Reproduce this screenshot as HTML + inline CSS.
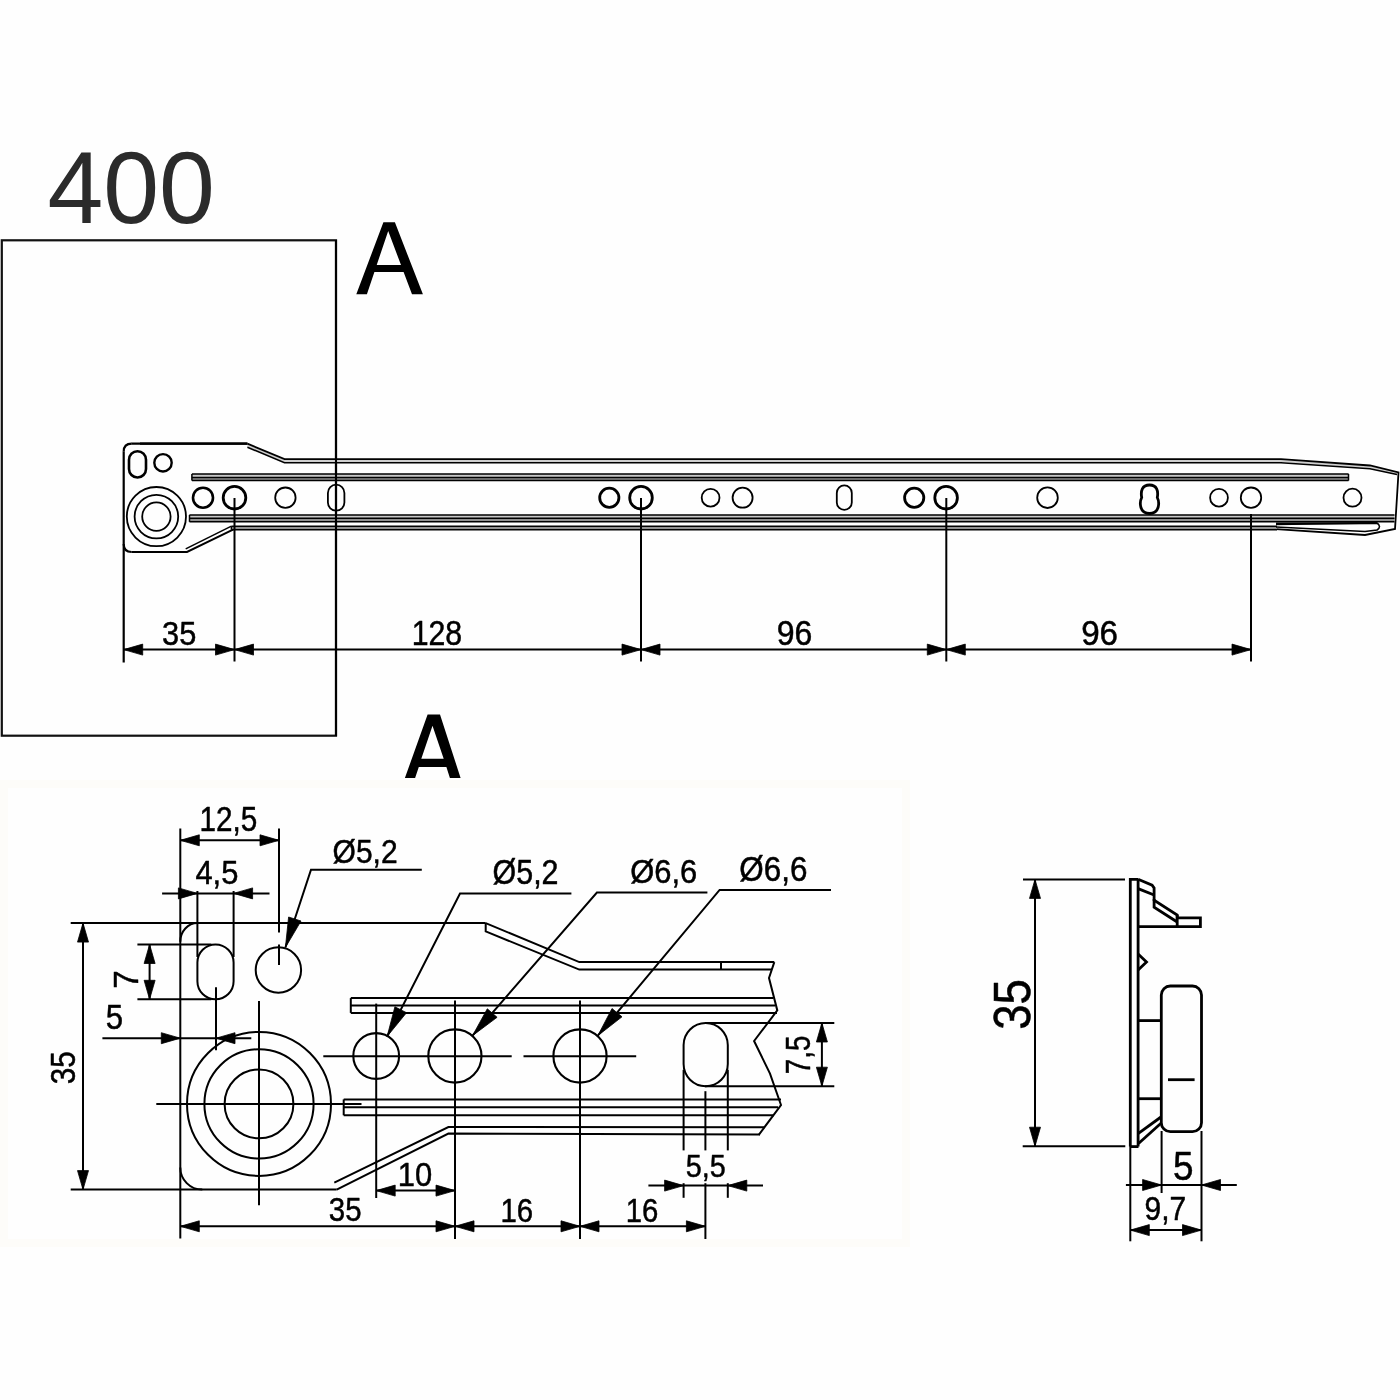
<!DOCTYPE html>
<html><head><meta charset="utf-8"><style>
html,body{margin:0;padding:0;width:1400px;height:1400px;overflow:hidden;background:#fefefe;}
text{font-family:"Liberation Sans",sans-serif;}
svg{will-change:transform;}
</style></head><body>
<svg width="1400" height="1400" viewBox="0 0 1400 1400" style="position:absolute;left:0;top:0">
<rect x="0" y="0" width="1400" height="1400" fill="#fefefe"/>
<rect x="4" y="784" width="902" height="459" fill="none" stroke="#fdfcf9" stroke-width="8"/>
<g font-family="Liberation Sans, sans-serif">
<text transform="translate(47.40,223.30) scale(0.9792,1)" font-size="102.54" fill="#2b2b2b">400</text>
<rect x="1.8" y="240.3" width="334.2" height="495.4" fill="none" stroke="#111" stroke-width="2.2"/>
<path fill-rule="evenodd" fill="#000" d="M356.3,294.3 L383.4,222.3 L394.9,222.3 L422.9,294.3 L412,294.3 L403.6,272 L374.4,272 L366.9,294.3 Z M388.2,230.9 L401,265.1 L376.7,265.1 Z"/>
<path d="M247.4,443.7 L140.0,443.7" stroke="#000" stroke-width="2.2" fill="none" stroke-linejoin="miter"/>
<path d="M131.7,443.7 Q123.7,443.7 123.7,451.7" stroke="#000" stroke-width="2.2" fill="none"/>
<path d="M123.7,544 Q123.7,552 131.7,552" stroke="#000" stroke-width="2.2" fill="none"/>
<path d="M131.7,552.0 L187.0,552.0 L233.0,529.7" stroke="#000" stroke-width="2.0" fill="none" stroke-linejoin="miter"/>
<line x1="131.5" y1="443.7" x2="247.4" y2="443.7" stroke="#000" stroke-width="2.2"/>
<path d="M247.4,445.4 L284.5,461 L1281,461 L1370,467.2 L1397.7,473.5" stroke="#cfcfcf" stroke-width="2.2" fill="none"/>
<path d="M247.4,443.7 L284.5,459.2 L1281.0,459.2 L1370.0,465.5 L1398.5,472.5 L1395.0,529.0 L1365.0,535.0 L1276.0,529.2" stroke="#000" stroke-width="1.8" fill="none" stroke-linejoin="miter"/>
<path d="M247.4,447.2 L284.5,462.8 L1281.0,462.8 L1370.0,468.8 L1397.0,474.5" stroke="#000" stroke-width="1.6" fill="none" stroke-linejoin="miter"/>
<path d="M185.7,548.8 L231.4,526.2" stroke="#000" stroke-width="1.5" fill="none" stroke-linejoin="miter"/>
<rect x="191.9" y="473.9" width="1156.6" height="3.5" fill="#c8c8c8"/>
<rect x="191.9" y="477.4" width="1156.6" height="3.2" fill="#909090"/>
<line x1="191.9" y1="473.9" x2="1348.5" y2="473.9" stroke="#000" stroke-width="1.5"/>
<line x1="191.9" y1="477.4" x2="1348.5" y2="477.4" stroke="#000" stroke-width="1.5"/>
<line x1="191.9" y1="480.6" x2="1348.5" y2="480.6" stroke="#000" stroke-width="1.5"/>
<line x1="191.9" y1="473.9" x2="191.9" y2="480.6" stroke="#000" stroke-width="1.5"/>
<line x1="1348.5" y1="473.9" x2="1348.5" y2="480.6" stroke="#000" stroke-width="1.5"/>
<rect x="189.5" y="514.9" width="1205.0" height="3.4" fill="#c8c8c8"/>
<rect x="189.5" y="518.3" width="1205.0" height="3.5" fill="#909090"/>
<line x1="189.5" y1="514.9" x2="1394.5" y2="514.9" stroke="#000" stroke-width="1.5"/>
<line x1="189.5" y1="518.3" x2="1394.5" y2="518.3" stroke="#000" stroke-width="1.5"/>
<line x1="189.5" y1="521.8" x2="1394.5" y2="521.8" stroke="#000" stroke-width="1.5"/>
<line x1="189.5" y1="514.9" x2="189.5" y2="521.8" stroke="#000" stroke-width="1.5"/>
<rect x="231.4" y="526.2" width="1045.6" height="3.5" fill="#909090"/>
<line x1="231.4" y1="526.2" x2="1277.0" y2="526.2" stroke="#000" stroke-width="1.5"/>
<line x1="231.4" y1="529.7" x2="1277.0" y2="529.7" stroke="#000" stroke-width="1.5"/>
<line x1="231.4" y1="526.2" x2="231.4" y2="529.7" stroke="#000" stroke-width="1.5"/>
<line x1="231.4" y1="526.2" x2="231.4" y2="529.7" stroke="#000" stroke-width="0"/>
<path d="M1276,524.5 L1377,523 Q1382,526.5 1377,530 L1365,531.5 L1276,527" stroke="#000" stroke-width="1.6" fill="none"/>
<line x1="1276.0" y1="523.5" x2="1377.0" y2="523.2" stroke="#000" stroke-width="2.2"/>
<circle cx="137.5" cy="464.3" r="0.0" stroke="#000" stroke-width="0" fill="none"/>
<rect x="129.0" y="451.2" width="17.0" height="26.3" rx="8.5" ry="8.5" stroke="#000" stroke-width="2.6" fill="none"/>
<circle cx="163.0" cy="462.8" r="8.7" stroke="#000" stroke-width="2.4" fill="none"/>
<circle cx="156.4" cy="516.6" r="29.6" stroke="#000" stroke-width="1.8" fill="none"/>
<circle cx="156.4" cy="516.6" r="21.8" stroke="#000" stroke-width="1.8" fill="none"/>
<circle cx="156.4" cy="516.6" r="14.2" stroke="#000" stroke-width="1.8" fill="none"/>
<circle cx="203.0" cy="497.7" r="10.0" stroke="#000" stroke-width="2.6" fill="none"/>
<circle cx="234.5" cy="497.7" r="11.3" stroke="#000" stroke-width="2.8" fill="none"/>
<circle cx="285.4" cy="497.7" r="10.2" stroke="#000" stroke-width="1.8" fill="none"/>
<rect x="327.9" y="484.7" width="16.5" height="26.0" rx="8.2" ry="8.2" stroke="#000" stroke-width="1.8" fill="none"/>
<circle cx="609.3" cy="497.7" r="9.6" stroke="#000" stroke-width="2.8" fill="none"/>
<circle cx="641.0" cy="497.7" r="11.3" stroke="#000" stroke-width="2.8" fill="none"/>
<circle cx="710.6" cy="497.7" r="8.9" stroke="#000" stroke-width="1.8" fill="none"/>
<circle cx="742.6" cy="497.7" r="10.0" stroke="#000" stroke-width="1.8" fill="none"/>
<rect x="836.8" y="485.4" width="15.0" height="24.5" rx="7.5" ry="7.5" stroke="#000" stroke-width="1.8" fill="none"/>
<circle cx="914.2" cy="497.7" r="9.6" stroke="#000" stroke-width="2.8" fill="none"/>
<circle cx="946.1" cy="497.7" r="11.3" stroke="#000" stroke-width="2.8" fill="none"/>
<circle cx="1047.5" cy="497.7" r="10.3" stroke="#000" stroke-width="1.8" fill="none"/>
<path d="M1149.5,485 C1157,485 1158.5,491 1157.3,497.5 C1159.5,502 1160,513.5 1149.5,513.5 C1139,513.5 1139.5,502 1141.7,497.5 C1140.5,491 1142,485 1149.5,485 Z" stroke="#000" stroke-width="2.8" fill="none"/>
<circle cx="1219.0" cy="497.7" r="8.9" stroke="#000" stroke-width="1.8" fill="none"/>
<circle cx="1251.0" cy="497.7" r="10.2" stroke="#000" stroke-width="1.8" fill="none"/>
<circle cx="1352.5" cy="497.7" r="9.0" stroke="#000" stroke-width="1.8" fill="none"/>
<line x1="123.7" y1="451.7" x2="123.7" y2="662.5" stroke="#000" stroke-width="2.2"/>
<line x1="234.5" y1="498.0" x2="234.5" y2="661.5" stroke="#000" stroke-width="2"/>
<line x1="336.0" y1="240.0" x2="336.0" y2="736.0" stroke="#000" stroke-width="2.1"/>
<line x1="641.0" y1="498.0" x2="641.0" y2="661.5" stroke="#000" stroke-width="2"/>
<line x1="946.3" y1="498.0" x2="946.3" y2="661.5" stroke="#000" stroke-width="2"/>
<line x1="1251.0" y1="514.0" x2="1251.0" y2="661.5" stroke="#000" stroke-width="2"/>
<line x1="123.7" y1="649.6" x2="1251.0" y2="649.6" stroke="#000" stroke-width="2"/>
<path d="M123.7,649.6 L142.7,644.1 L142.7,655.1 Z" fill="#000" stroke="#000" stroke-width="0.8" stroke-linejoin="round"/>
<path d="M234.5,649.6 L215.5,655.1 L215.5,644.1 Z" fill="#000" stroke="#000" stroke-width="0.8" stroke-linejoin="round"/>
<path d="M234.5,649.6 L253.5,644.1 L253.5,655.1 Z" fill="#000" stroke="#000" stroke-width="0.8" stroke-linejoin="round"/>
<path d="M641.0,649.6 L622.0,655.1 L622.0,644.1 Z" fill="#000" stroke="#000" stroke-width="0.8" stroke-linejoin="round"/>
<path d="M641.0,649.6 L660.0,644.1 L660.0,655.1 Z" fill="#000" stroke="#000" stroke-width="0.8" stroke-linejoin="round"/>
<path d="M946.3,649.6 L927.3,655.1 L927.3,644.1 Z" fill="#000" stroke="#000" stroke-width="0.8" stroke-linejoin="round"/>
<path d="M946.3,649.6 L965.3,644.1 L965.3,655.1 Z" fill="#000" stroke="#000" stroke-width="0.8" stroke-linejoin="round"/>
<path d="M1251.0,649.6 L1232.0,655.1 L1232.0,644.1 Z" fill="#000" stroke="#000" stroke-width="0.8" stroke-linejoin="round"/>
<text transform="translate(162.03,644.60) scale(0.9076,1)" font-size="33.94" fill="#000" stroke="#000" stroke-width="0.5" stroke-linejoin="round">35</text>
<text transform="translate(411.69,644.60) scale(0.8773,1)" font-size="34.52" fill="#000" stroke="#000" stroke-width="0.5" stroke-linejoin="round">128</text>
<text transform="translate(776.70,644.60) scale(0.9161,1)" font-size="34.94" fill="#000" stroke="#000" stroke-width="0.5" stroke-linejoin="round">96</text>
<text transform="translate(1081.14,645.20) scale(0.9536,1)" font-size="34.80" fill="#000" stroke="#000" stroke-width="0.5" stroke-linejoin="round">96</text>
<g>
<path fill-rule="evenodd" fill="#000" d="M404.9,778 L427.6,714.6 L440,714.6 L460.6,778 L449.9,778 L446.4,766.9 L418.8,766.9 L415.1,778 Z M432.5,725.7 L443.7,758.7 L421.3,758.7 Z"/>
<line x1="70.7" y1="923.1" x2="485.7" y2="923.1" stroke="#000" stroke-width="2"/>
<path d="M180.3,941.7 A17.1,18.6 0 0 1 197.4,923.1" stroke="#000" stroke-width="2" fill="none"/>
<path d="M180.3,1167.5 A22,22 0 0 0 202.3,1189.6" stroke="#000" stroke-width="2" fill="none"/>
<line x1="70.7" y1="1189.6" x2="336.7" y2="1189.6" stroke="#000" stroke-width="2"/>
<path d="M336.7,1189.6 L448.4,1133.6 L760.0,1134.6" stroke="#000" stroke-width="2" fill="none" stroke-linejoin="miter"/>
<path d="M334.3,1182.6 L448.4,1127.0 L765.0,1127.2" stroke="#000" stroke-width="2" fill="none" stroke-linejoin="miter"/>
<path d="M485.7,923.1 L579.3,962.1 L774.3,962.1" stroke="#000" stroke-width="2" fill="none" stroke-linejoin="miter"/>
<path d="M485.7,923.1 L485.7,931.4 L579.3,969.6 L772.0,969.6" stroke="#000" stroke-width="2" fill="none" stroke-linejoin="miter"/>
<line x1="721.0" y1="962.1" x2="721.0" y2="969.6" stroke="#000" stroke-width="2"/>
<path d="M774.3,962.1 L769.0,978.0 L777.3,1010.4 L754.1,1041.0 L770.0,1073.6 L781.0,1105.0 L758.8,1134.8" stroke="#000" stroke-width="2" fill="none" stroke-linejoin="miter"/>
<line x1="350.8" y1="998.1" x2="773.5" y2="998.1" stroke="#000" stroke-width="2"/>
<line x1="350.8" y1="1005.4" x2="775.0" y2="1005.4" stroke="#000" stroke-width="2"/>
<line x1="350.8" y1="1012.9" x2="777.0" y2="1012.9" stroke="#000" stroke-width="2"/>
<line x1="350.8" y1="998.1" x2="350.8" y2="1012.9" stroke="#000" stroke-width="2"/>
<line x1="343.7" y1="1099.4" x2="781.0" y2="1099.4" stroke="#000" stroke-width="2"/>
<line x1="343.7" y1="1107.3" x2="778.0" y2="1107.3" stroke="#000" stroke-width="2"/>
<line x1="343.7" y1="1115.3" x2="774.0" y2="1115.3" stroke="#000" stroke-width="2"/>
<line x1="343.7" y1="1099.4" x2="343.7" y2="1115.3" stroke="#000" stroke-width="2"/>
<circle cx="259.0" cy="1103.9" r="72.0" stroke="#000" stroke-width="2" fill="none"/>
<circle cx="259.0" cy="1103.9" r="54.6" stroke="#000" stroke-width="2" fill="none"/>
<circle cx="259.0" cy="1103.9" r="34.4" stroke="#000" stroke-width="2" fill="none"/>
<line x1="259.0" y1="1001.0" x2="259.0" y2="1205.2" stroke="#000" stroke-width="2"/>
<line x1="156.3" y1="1103.9" x2="361.5" y2="1103.9" stroke="#000" stroke-width="2"/>
<rect x="197.4" y="944.5" width="36.2" height="54.8" rx="18.1" ry="18.1" stroke="#000" stroke-width="2" fill="none"/>
<line x1="216.0" y1="987.2" x2="216.0" y2="1050.3" stroke="#000" stroke-width="2"/>
<circle cx="278.4" cy="970.0" r="22.7" stroke="#000" stroke-width="2" fill="none"/>
<line x1="279.0" y1="828.6" x2="279.0" y2="932.4" stroke="#000" stroke-width="2"/>
<line x1="279.0" y1="944.5" x2="279.0" y2="965.0" stroke="#000" stroke-width="2"/>
<line x1="180.3" y1="828.6" x2="180.3" y2="1238.6" stroke="#000" stroke-width="2"/>
<line x1="180.3" y1="840.3" x2="279.0" y2="840.3" stroke="#000" stroke-width="2"/>
<path d="M180.3,840.3 L199.3,834.8 L199.3,845.8 Z" fill="#000" stroke="#000" stroke-width="0.8" stroke-linejoin="round"/>
<path d="M279.0,840.3 L260.0,845.8 L260.0,834.8 Z" fill="#000" stroke="#000" stroke-width="0.8" stroke-linejoin="round"/>
<text transform="translate(199.54,830.80) scale(0.8500,1)" font-size="34.94" fill="#000" stroke="#000" stroke-width="0.5" stroke-linejoin="round">12,5</text>
<line x1="162.1" y1="893.4" x2="269.5" y2="893.4" stroke="#000" stroke-width="2"/>
<path d="M197.4,893.4 L178.4,898.9 L178.4,887.9 Z" fill="#000" stroke="#000" stroke-width="0.8" stroke-linejoin="round"/>
<path d="M233.6,893.4 L252.6,887.9 L252.6,898.9 Z" fill="#000" stroke="#000" stroke-width="0.8" stroke-linejoin="round"/>
<line x1="197.4" y1="891.0" x2="197.4" y2="957.0" stroke="#000" stroke-width="2"/>
<line x1="233.6" y1="891.0" x2="233.6" y2="957.0" stroke="#000" stroke-width="2"/>
<text transform="translate(195.39,884.30) scale(0.9096,1)" font-size="34.01" fill="#000" stroke="#000" stroke-width="0.5" stroke-linejoin="round">4,5</text>
<line x1="137.4" y1="944.5" x2="211.3" y2="944.5" stroke="#000" stroke-width="2"/>
<line x1="137.4" y1="999.3" x2="211.3" y2="999.3" stroke="#000" stroke-width="2"/>
<line x1="149.6" y1="944.5" x2="149.6" y2="999.3" stroke="#000" stroke-width="2"/>
<path d="M149.6,944.5 L155.1,963.5 L144.1,963.5 Z" fill="#000" stroke="#000" stroke-width="0.8" stroke-linejoin="round"/>
<path d="M149.6,999.3 L144.1,980.3 L155.1,980.3 Z" fill="#000" stroke="#000" stroke-width="0.8" stroke-linejoin="round"/>
<text transform="translate(137.90,988.69) rotate(-90) scale(0.9538,1)" font-size="34.59" fill="#000" stroke="#000" stroke-width="0.5" stroke-linejoin="round">7</text>
<line x1="102.4" y1="1038.2" x2="251.3" y2="1038.2" stroke="#000" stroke-width="2"/>
<path d="M180.3,1038.2 L161.3,1043.7 L161.3,1032.7 Z" fill="#000" stroke="#000" stroke-width="0.8" stroke-linejoin="round"/>
<path d="M216.0,1038.2 L235.0,1032.7 L235.0,1043.7 Z" fill="#000" stroke="#000" stroke-width="0.8" stroke-linejoin="round"/>
<text transform="translate(105.65,1028.90) scale(0.8838,1)" font-size="35.32" fill="#000" stroke="#000" stroke-width="0.5" stroke-linejoin="round">5</text>
<line x1="83.0" y1="923.1" x2="83.0" y2="1189.6" stroke="#000" stroke-width="2"/>
<path d="M83.0,923.1 L88.5,942.1 L77.5,942.1 Z" fill="#000" stroke="#000" stroke-width="0.8" stroke-linejoin="round"/>
<path d="M83.0,1189.6 L77.5,1170.6 L88.5,1170.6 Z" fill="#000" stroke="#000" stroke-width="0.8" stroke-linejoin="round"/>
<text transform="translate(74.50,1084.13) rotate(-90) scale(0.8346,1)" font-size="35.52" fill="#000" stroke="#000" stroke-width="0.5" stroke-linejoin="round">35</text>
<path d="M285.4,947.5 L311.0,869.7 L421.8,869.7" stroke="#000" stroke-width="2" fill="none" stroke-linejoin="miter"/>
<path d="M285.4,947.5 L288.6,917.0 L301.0,921.0 Z" fill="#000" stroke="#000" stroke-width="0.8" stroke-linejoin="round"/>
<text transform="translate(332.56,863.40) scale(0.8953,1)" font-size="33.51" fill="#000" stroke="#000" stroke-width="0.5" stroke-linejoin="round">Ø5,2</text>
<path d="M387.1,1036.5 L460.0,893.5 L571.4,893.5" stroke="#000" stroke-width="2" fill="none" stroke-linejoin="miter"/>
<path d="M387.1,1036.5 L394.9,1006.8 L406.5,1012.7 Z" fill="#000" stroke="#000" stroke-width="0.8" stroke-linejoin="round"/>
<text transform="translate(492.54,884.30) scale(0.8746,1)" font-size="34.80" fill="#000" stroke="#000" stroke-width="0.5" stroke-linejoin="round">Ø5,2</text>
<path d="M472.5,1035.7 L596.9,892.5 L707.4,892.5" stroke="#000" stroke-width="2" fill="none" stroke-linejoin="miter"/>
<path d="M472.5,1035.7 L487.3,1008.8 L497.1,1017.3 Z" fill="#000" stroke="#000" stroke-width="0.8" stroke-linejoin="round"/>
<text transform="translate(630.23,883.40) scale(0.9109,1)" font-size="33.94" fill="#000" stroke="#000" stroke-width="0.5" stroke-linejoin="round">Ø6,6</text>
<path d="M597.8,1035.7 L719.6,889.9 L831.0,889.9" stroke="#000" stroke-width="2" fill="none" stroke-linejoin="miter"/>
<path d="M597.8,1035.7 L612.0,1008.5 L622.0,1016.8 Z" fill="#000" stroke="#000" stroke-width="0.8" stroke-linejoin="round"/>
<text transform="translate(739.31,881.40) scale(0.8962,1)" font-size="35.09" fill="#000" stroke="#000" stroke-width="0.5" stroke-linejoin="round">Ø6,6</text>
<circle cx="376.2" cy="1056.0" r="22.9" stroke="#000" stroke-width="2.1" fill="none"/>
<circle cx="454.9" cy="1056.0" r="26.6" stroke="#000" stroke-width="2.1" fill="none"/>
<circle cx="580.0" cy="1056.0" r="26.6" stroke="#000" stroke-width="2.1" fill="none"/>
<line x1="323.3" y1="1056.2" x2="511.7" y2="1056.2" stroke="#000" stroke-width="2"/>
<line x1="523.5" y1="1056.2" x2="636.2" y2="1056.2" stroke="#000" stroke-width="2"/>
<line x1="376.2" y1="1003.6" x2="376.2" y2="1198.0" stroke="#000" stroke-width="2"/>
<line x1="455.0" y1="1000.4" x2="455.0" y2="1239.0" stroke="#000" stroke-width="2"/>
<line x1="580.0" y1="1000.4" x2="580.0" y2="1239.0" stroke="#000" stroke-width="2"/>
<rect x="683.6" y="1023.0" width="44.2" height="63.2" rx="22.1" ry="22.1" stroke="#000" stroke-width="2" fill="none"/>
<line x1="705.4" y1="1091.2" x2="705.4" y2="1150.4" stroke="#000" stroke-width="2"/>
<line x1="705.4" y1="1183.2" x2="705.4" y2="1239.0" stroke="#000" stroke-width="2"/>
<line x1="683.6" y1="1069.8" x2="683.6" y2="1150.4" stroke="#000" stroke-width="2"/>
<line x1="727.8" y1="1069.8" x2="727.8" y2="1150.4" stroke="#000" stroke-width="2"/>
<line x1="683.6" y1="1183.2" x2="683.6" y2="1197.8" stroke="#000" stroke-width="2"/>
<line x1="727.8" y1="1183.2" x2="727.8" y2="1197.8" stroke="#000" stroke-width="2"/>
<line x1="705.0" y1="1023.0" x2="834.3" y2="1023.0" stroke="#000" stroke-width="2"/>
<line x1="705.0" y1="1086.2" x2="834.3" y2="1086.2" stroke="#000" stroke-width="2"/>
<line x1="821.9" y1="1023.0" x2="821.9" y2="1086.2" stroke="#000" stroke-width="2"/>
<path d="M821.9,1023.0 L827.4,1042.0 L816.4,1042.0 Z" fill="#000" stroke="#000" stroke-width="0.8" stroke-linejoin="round"/>
<path d="M821.9,1086.2 L816.4,1067.2 L827.4,1067.2 Z" fill="#000" stroke="#000" stroke-width="0.8" stroke-linejoin="round"/>
<text transform="translate(809.90,1074.23) rotate(-90) scale(0.8002,1)" font-size="34.88" fill="#000" stroke="#000" stroke-width="0.5" stroke-linejoin="round">7,5</text>
<line x1="648.4" y1="1185.6" x2="763.0" y2="1185.6" stroke="#000" stroke-width="2"/>
<path d="M683.6,1185.6 L664.6,1191.1 L664.6,1180.1 Z" fill="#000" stroke="#000" stroke-width="0.8" stroke-linejoin="round"/>
<path d="M727.8,1185.6 L746.8,1180.1 L746.8,1191.1 Z" fill="#000" stroke="#000" stroke-width="0.8" stroke-linejoin="round"/>
<text transform="translate(685.85,1177.20) scale(0.8972,1)" font-size="32.12" fill="#000" stroke="#000" stroke-width="0.5" stroke-linejoin="round">5,5</text>
<line x1="376.2" y1="1190.6" x2="455.0" y2="1190.6" stroke="#000" stroke-width="2"/>
<path d="M376.2,1190.6 L395.2,1185.1 L395.2,1196.1 Z" fill="#000" stroke="#000" stroke-width="0.8" stroke-linejoin="round"/>
<path d="M455.0,1190.6 L436.0,1196.1 L436.0,1185.1 Z" fill="#000" stroke="#000" stroke-width="0.8" stroke-linejoin="round"/>
<text transform="translate(397.74,1186.00) scale(0.9130,1)" font-size="33.94" fill="#000" stroke="#000" stroke-width="0.5" stroke-linejoin="round">10</text>
<line x1="180.3" y1="1226.3" x2="705.4" y2="1226.3" stroke="#000" stroke-width="2"/>
<path d="M180.3,1226.3 L199.3,1220.8 L199.3,1231.8 Z" fill="#000" stroke="#000" stroke-width="0.8" stroke-linejoin="round"/>
<path d="M455.0,1226.3 L436.0,1231.8 L436.0,1220.8 Z" fill="#000" stroke="#000" stroke-width="0.8" stroke-linejoin="round"/>
<path d="M455.0,1226.3 L474.0,1220.8 L474.0,1231.8 Z" fill="#000" stroke="#000" stroke-width="0.8" stroke-linejoin="round"/>
<path d="M580.0,1226.3 L561.0,1231.8 L561.0,1220.8 Z" fill="#000" stroke="#000" stroke-width="0.8" stroke-linejoin="round"/>
<path d="M580.0,1226.3 L599.0,1220.8 L599.0,1231.8 Z" fill="#000" stroke="#000" stroke-width="0.8" stroke-linejoin="round"/>
<path d="M705.4,1226.3 L686.4,1231.8 L686.4,1220.8 Z" fill="#000" stroke="#000" stroke-width="0.8" stroke-linejoin="round"/>
<text transform="translate(328.78,1220.70) scale(0.8826,1)" font-size="33.37" fill="#000" stroke="#000" stroke-width="0.5" stroke-linejoin="round">35</text>
<text transform="translate(500.46,1221.70) scale(0.8671,1)" font-size="33.94" fill="#000" stroke="#000" stroke-width="0.5" stroke-linejoin="round">16</text>
<text transform="translate(625.67,1221.70) scale(0.8641,1)" font-size="33.94" fill="#000" stroke="#000" stroke-width="0.5" stroke-linejoin="round">16</text>
</g>
<line x1="1023.0" y1="879.4" x2="1125.0" y2="879.4" stroke="#000" stroke-width="2"/>
<line x1="1022.7" y1="1146.2" x2="1125.3" y2="1146.2" stroke="#000" stroke-width="2"/>
<line x1="1035.0" y1="879.4" x2="1035.0" y2="1146.2" stroke="#000" stroke-width="2"/>
<path d="M1035.0,879.4 L1040.5,898.4 L1029.5,898.4 Z" fill="#000" stroke="#000" stroke-width="0.8" stroke-linejoin="round"/>
<path d="M1035.0,1146.2 L1029.5,1127.2 L1040.5,1127.2 Z" fill="#000" stroke="#000" stroke-width="0.8" stroke-linejoin="round"/>
<text transform="translate(1030.40,1029.73) rotate(-90) scale(0.8734,1)" font-size="52.13" fill="#000" stroke="#000" stroke-width="0.5" stroke-linejoin="round">35</text>
<path d="M1130.3,1146.6 L1130.3,879.3 L1138.1,879.3" stroke="#000" stroke-width="2.8" fill="none" stroke-linejoin="miter"/>
<line x1="1138.1" y1="879.3" x2="1138.1" y2="1146.6" stroke="#000" stroke-width="2.8"/>
<line x1="1130.3" y1="1146.6" x2="1138.5" y2="1146.6" stroke="#000" stroke-width="2.8"/>
<path d="M1138.1,879.3 L1152.1,885.1 L1154.1,888.0 L1154.1,900.2 L1177.2,915.0 L1177.2,917.9 L1200.4,917.9 L1200.4,926.6 L1138.1,926.6" stroke="#000" stroke-width="2.8" fill="none" stroke-linejoin="miter"/>
<path d="M1138.1,888.6 L1154.1,895.0" stroke="#000" stroke-width="2.8" fill="none" stroke-linejoin="miter"/>
<path d="M1154.1,899.0 L1154.1,907.3 L1177.2,922.0" stroke="#000" stroke-width="2.8" fill="none" stroke-linejoin="miter"/>
<line x1="1177.2" y1="915.0" x2="1177.2" y2="926.6" stroke="#000" stroke-width="2.8"/>
<path d="M1138.1,954.0 L1146.5,962.0 L1138.1,970.0" stroke="#000" stroke-width="2.8" fill="none" stroke-linejoin="miter"/>
<line x1="1138.1" y1="1020.6" x2="1161.0" y2="1020.6" stroke="#000" stroke-width="2.8"/>
<rect x="1161.3" y="986" width="40.2" height="145.7" rx="9" ry="9" fill="none" stroke="#000" stroke-width="2.8"/>
<line x1="1168.0" y1="1079.7" x2="1194.6" y2="1079.7" stroke="#000" stroke-width="2.8"/>
<line x1="1138.1" y1="1098.7" x2="1161.0" y2="1098.7" stroke="#000" stroke-width="2.8"/>
<path d="M1138.5,1143.5 L1161.0,1123.3" stroke="#000" stroke-width="2.8" fill="none" stroke-linejoin="miter"/>
<path d="M1138.1,1133.6 L1161.0,1117.0" stroke="#000" stroke-width="2.8" fill="none" stroke-linejoin="miter"/>
<line x1="1161.6" y1="1131.0" x2="1161.6" y2="1193.0" stroke="#000" stroke-width="2"/>
<line x1="1130.3" y1="1146.0" x2="1130.3" y2="1241.3" stroke="#000" stroke-width="2"/>
<line x1="1201.5" y1="1131.0" x2="1201.5" y2="1241.3" stroke="#000" stroke-width="2"/>
<line x1="1125.9" y1="1185.0" x2="1236.8" y2="1185.0" stroke="#000" stroke-width="2"/>
<path d="M1161.6,1185.0 L1142.6,1190.5 L1142.6,1179.5 Z" fill="#000" stroke="#000" stroke-width="0.8" stroke-linejoin="round"/>
<path d="M1201.5,1185.0 L1220.5,1179.5 L1220.5,1190.5 Z" fill="#000" stroke="#000" stroke-width="0.8" stroke-linejoin="round"/>
<text transform="translate(1172.92,1180.10) scale(0.9037,1)" font-size="40.84" fill="#000" stroke="#000" stroke-width="0.5" stroke-linejoin="round">5</text>
<line x1="1130.3" y1="1230.1" x2="1201.5" y2="1230.1" stroke="#000" stroke-width="2"/>
<path d="M1130.3,1230.1 L1149.3,1224.6 L1149.3,1235.6 Z" fill="#000" stroke="#000" stroke-width="0.8" stroke-linejoin="round"/>
<path d="M1201.5,1230.1 L1182.5,1235.6 L1182.5,1224.6 Z" fill="#000" stroke="#000" stroke-width="0.8" stroke-linejoin="round"/>
<text transform="translate(1144.49,1219.60) scale(0.8841,1)" font-size="33.94" fill="#000" stroke="#000" stroke-width="0.5" stroke-linejoin="round">9,7</text>
</g></svg>
</body></html>
